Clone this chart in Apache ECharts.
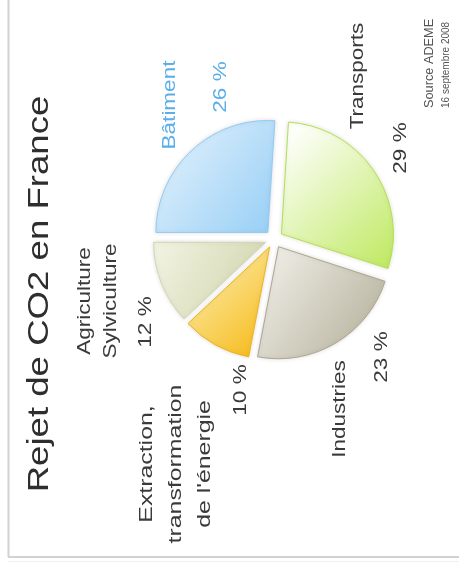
<!DOCTYPE html>
<html>
<head>
<meta charset="utf-8">
<script src="https://cdn.jsdelivr.net/npm/echarts@6/dist/echarts.min.js"></script>
<style>
  html, body { margin: 0; padding: 0; background: #fff; }
  #main { width: 459px; height: 568px; }
</style>
</head>
<body>
<div id="main"></div>
<script>
// slide is turned a quarter turn: every text reads bottom to top
var titleText = 'Rejet de CO2 en France';
var sourceText = 'Source ADEME';
var dateText = '16 septembre 2008';

var categories = ['Bâtiment', 'Transports', 'Industries', "Extraction,\ntransformation\nde l'énergie", 'Agriculture\nSylviculture'];
var shares = [26, 29, 23, 10, 12];

// slice colours (light -> saturated) and outline
var fillFrom = ['#e4f2fc', '#ffffff', '#f1f0ea', '#fdf0b6', '#f1f3e2'];
var fillTo = ['#9ad0f6', '#c2ea68', '#b4af99', '#f6bb1c', '#cfd3a8'];
var edgeColors = ['#93cbf3', '#b6e14e', '#aca78f', '#eeb51a', '#d3d6b2'];

// where the labels sit (px, centre of the text block)
var namePos = [[170, 105], [358, 76], [340, 409], [176, 464], [98, 301]];
var valuePos = [[221, 87], [401, 148], [382, 357], [241, 390], [146, 322]];
var nameLineH = [22, 22, 22, 29, 26];

var chart = echarts.init(document.getElementById('main'));

var pieData = [];
for (var i = 0; i < shares.length; i++) {
    pieData.push({
        name: categories[i],
        value: shares[i],
        selected: true,
        itemStyle: {
            color: new echarts.graphic.LinearGradient(0, 0.1, 1, 0.9, [
                {offset: 0, color: fillFrom[i]},
                {offset: 1, color: fillTo[i]}
            ]),
            borderColor: edgeColors[i],
            borderWidth: 1,
            shadowBlur: 4,
            shadowColor: 'rgba(0,0,0,0.12)'
        }
    });
}

var FONT = "'Liberation Sans', Arial, Helvetica, sans-serif";
var darkText = '#3a3a3a';
var blueText = '#5aaeea';

function vText(x, y, text, size, color, scale, align, lineH) {
    return {
        type: 'text',
        x: x,
        y: y,
        rotation: Math.PI / 2,
        scaleX: scale,
        silent: true,
        style: {
            text: text,
            fontSize: size,
            fontFamily: FONT,
            fill: color,
            align: align,
            verticalAlign: 'middle',
            lineHeight: lineH || Math.round(size * 1.2)
        }
    };
}

var graphics = [
    // frame of the slide
    {type: 'line', silent: true, shape: {x1: 8.5, y1: 0, x2: 8.5, y2: 557}, style: {stroke: '#d2d2d2', lineWidth: 2}},
    {type: 'line', silent: true, shape: {x1: 8, y1: 557, x2: 459, y2: 557}, style: {stroke: '#d2d2d2', lineWidth: 2}},
    {type: 'line', silent: true, shape: {x1: 8, y1: 561.5, x2: 459, y2: 561.5}, style: {stroke: '#f0f0f0', lineWidth: 1}},
    vText(40, 294, titleText, 30, '#2e2e2e', 1.22, 'center'),
    vText(429, 108, sourceText, 13, '#555555', 0.98, 'left'),
    vText(446, 108, dateText, 10, '#555555', 1.0, 'left')
];

for (var k = 0; k < categories.length; k++) {
    var col = k === 0 ? blueText : darkText;
    var sc = k === 3 ? 1.38 : 1.25;
    graphics.push(vText(namePos[k][0], namePos[k][1], categories[k], 18, col, sc, 'center', nameLineH[k]));
    graphics.push(vText(valuePos[k][0], valuePos[k][1], shares[k] + ' %', 18, col, 1.25, 'center'));
}

chart.setOption({
    backgroundColor: '#ffffff',
    animation: false,
    graphic: graphics,
    series: [{
        type: 'pie',
        center: [274, 239],
        radius: [0, 112],
        startAngle: 180,
        clockwise: true,
        selectedMode: 'multiple',
        selectedOffset: 9,
        label: {show: false},
        labelLine: {show: false},
        emphasis: {disabled: true},
        data: pieData
    }]
});
</script>
</body>
</html>
